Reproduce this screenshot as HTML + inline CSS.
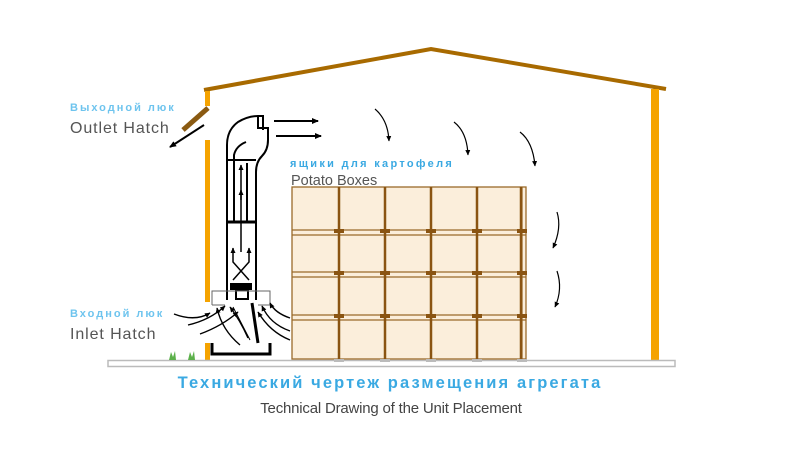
<!DOCTYPE html>
<html><head><meta charset="utf-8"><style>
body{margin:0;background:#fff;width:805px;height:467px;overflow:hidden}
svg{display:block}
</style></head><body>
<svg width="805" height="467" viewBox="0 0 805 467" xmlns="http://www.w3.org/2000/svg">
<defs>
<marker id="a" markerWidth="8" markerHeight="8" refX="6" refY="4" orient="auto" markerUnits="userSpaceOnUse"><path d="M0,1 L7,4 L0,7 z" fill="#000"/></marker>
<marker id="s" markerWidth="6" markerHeight="6" refX="5" refY="3" orient="auto" markerUnits="userSpaceOnUse"><path d="M0,0.5 L5.5,3 L0,5.5 z" fill="#000"/></marker>
</defs>
<polyline points="204,90 431,49 666,89" fill="none" stroke="#a86a00" stroke-width="4"/>
<rect x="651" y="89" width="8" height="271" fill="#f5a300"/>
<rect x="205" y="91" width="5" height="15" fill="#f5a300"/>
<rect x="205" y="140" width="5" height="162" fill="#f5a300"/>
<rect x="205" y="343" width="5" height="18" fill="#f5a300"/>
<line x1="208" y1="108" x2="183" y2="130" stroke="#8a5a12" stroke-width="5"/>
<line x1="204" y1="125" x2="170" y2="147" stroke="#000" stroke-width="2" marker-end="url(#a)"/>
<rect x="108" y="360.5" width="567" height="6" fill="#fff" stroke="#bbb" stroke-width="1.5"/>
<g fill="#5bb04a"><path d="M169,360 l2,-8 l2,5 l2,-6 l1,9z"/><path d="M188,360 l2,-8 l2,5 l2,-6 l1,9z"/></g>
<rect x="292" y="187" width="234" height="172" stroke="#9a6a2a" stroke-width="1.3" fill="#fbeedb"/>
<g stroke="#9a6a2a" stroke-width="1.2" fill="none">
<line x1="292" y1="230" x2="526" y2="230"/><line x1="292" y1="235" x2="526" y2="235"/>
<line x1="292" y1="272" x2="526" y2="272"/><line x1="292" y1="277" x2="526" y2="277"/>
<line x1="292" y1="315" x2="526" y2="315"/><line x1="292" y1="320" x2="526" y2="320"/>
<line x1="522" y1="187" x2="522" y2="359"/>
</g>
<g stroke="#8a5412" stroke-width="2.5">
<line x1="339" y1="187" x2="339" y2="359"/><line x1="385" y1="187" x2="385" y2="359"/>
<line x1="431" y1="187" x2="431" y2="359"/><line x1="477" y1="187" x2="477" y2="359"/>
<line x1="521" y1="187" x2="521" y2="359"/>
</g>
<g fill="#8a5412">
<rect x="334" y="229" width="10" height="4"/><rect x="380" y="229" width="10" height="4"/><rect x="426" y="229" width="10" height="4"/><rect x="472" y="229" width="10" height="4"/><rect x="517" y="229" width="10" height="4"/>
<rect x="334" y="271" width="10" height="4"/><rect x="380" y="271" width="10" height="4"/><rect x="426" y="271" width="10" height="4"/><rect x="472" y="271" width="10" height="4"/><rect x="517" y="271" width="10" height="4"/>
<rect x="334" y="314" width="10" height="4"/><rect x="380" y="314" width="10" height="4"/><rect x="426" y="314" width="10" height="4"/><rect x="472" y="314" width="10" height="4"/><rect x="517" y="314" width="10" height="4"/>
</g>
<g fill="#bbb"><rect x="334" y="359" width="10" height="3"/><rect x="380" y="359" width="10" height="3"/><rect x="426" y="359" width="10" height="3"/><rect x="472" y="359" width="10" height="3"/><rect x="517" y="359" width="10" height="3"/></g>
<g fill="none" stroke="#000" stroke-width="2">
<path d="M227,300 L227,145 Q227,130 238,122 Q248,116 258,116 L263,116 L263,130"/>
<path d="M256,300 L256,172 Q256,162 262,156 Q268,150 268,140 L268,128 L258,128 L258,116"/>
<path d="M234,222 L234,155 Q236,146 246,142"/>
<line x1="247" y1="163" x2="247" y2="222"/>
<line x1="227" y1="160" x2="256" y2="160"/>
<line x1="227" y1="222" x2="256" y2="222" stroke-width="3"/>
<rect x="236" y="290" width="12" height="9"/>
</g>
<rect x="230" y="283" width="22" height="7" fill="#000"/>
<line x1="241" y1="252" x2="241" y2="190" stroke="#000" stroke-width="1.5" marker-end="url(#s)"/>
<line x1="241" y1="200" x2="241" y2="165" stroke="#000" stroke-width="1.5" marker-end="url(#s)"/>
<path d="M233,280 L249,262 L249,248" fill="none" stroke="#000" stroke-width="1.5" marker-end="url(#s)"/>
<path d="M249,280 L233,262 L233,248" fill="none" stroke="#000" stroke-width="1.5" marker-end="url(#s)"/>
<path d="M212,305 L212,291 L270,291 L270,305" fill="none" stroke="#666" stroke-width="1"/>
<line x1="212" y1="305" x2="225" y2="305" stroke="#666"/>
<line x1="258" y1="305" x2="270" y2="305" stroke="#666"/>
<path d="M212,343 L212,354 L270,354 L270,343" fill="none" stroke="#000" stroke-width="3"/>
<path d="M252,303 L258,343" stroke="#000" stroke-width="3"/>
<path d="M233,307 L250,340" stroke="#000" stroke-width="1"/>
<g fill="none" stroke="#000" stroke-width="1.4" marker-end="url(#s)">
<path d="M174,314 Q195,322 210,313"/>
<path d="M188,325 Q210,320 225,306"/>
<path d="M200,334 Q222,326 238,312"/>
<path d="M248,338 Q240,320 230,307"/>
<path d="M290,331 Q270,324 262,306"/>
<path d="M290,340 Q270,332 258,312"/>
<path d="M290,318 Q275,313 270,303"/>
<path d="M240,345 Q222,330 217,308"/>
</g>
<line x1="274" y1="121" x2="318" y2="121" stroke="#000" stroke-width="2" marker-end="url(#a)"/>
<line x1="276" y1="136" x2="321" y2="136" stroke="#000" stroke-width="2" marker-end="url(#a)"/>
<g fill="none" stroke="#000" stroke-width="1.2" marker-end="url(#s)">
<path d="M375,109 Q388,120 389,141"/>
<path d="M454,122 Q467,132 468,155"/>
<path d="M520,132 Q533,142 535,166"/>
<path d="M557,212 Q562,228 553,248"/>
<path d="M557,271 Q563,289 555,307"/>
</g>
<g font-family="'Liberation Sans','DejaVu Sans',sans-serif">
<text x="70" y="111" font-size="11" font-weight="bold" fill="#6ec4ee" letter-spacing="2">Выходной люк</text>
<text x="70" y="133" font-size="16" fill="#555" letter-spacing="0.9">Outlet Hatch</text>
<text x="290" y="167" font-size="11" font-weight="bold" fill="#3aa9e2" letter-spacing="2.3">ящики для картофеля</text>
<text x="291" y="185" font-size="14.5" fill="#555">Potato Boxes</text>
<text x="70" y="317" font-size="11" font-weight="bold" fill="#6ec4ee" letter-spacing="2">Входной люк</text>
<text x="70" y="339" font-size="16" fill="#555" letter-spacing="0.9">Inlet Hatch</text>
<text x="390" y="388" font-size="16.5" font-weight="bold" fill="#3aa9e2" text-anchor="middle" letter-spacing="2.1">Технический чертеж размещения агрегата</text>
<text x="391" y="413" font-size="15" fill="#444" text-anchor="middle" letter-spacing="-0.2">Technical Drawing of the Unit Placement</text>
</g>
</svg>
</body></html>
